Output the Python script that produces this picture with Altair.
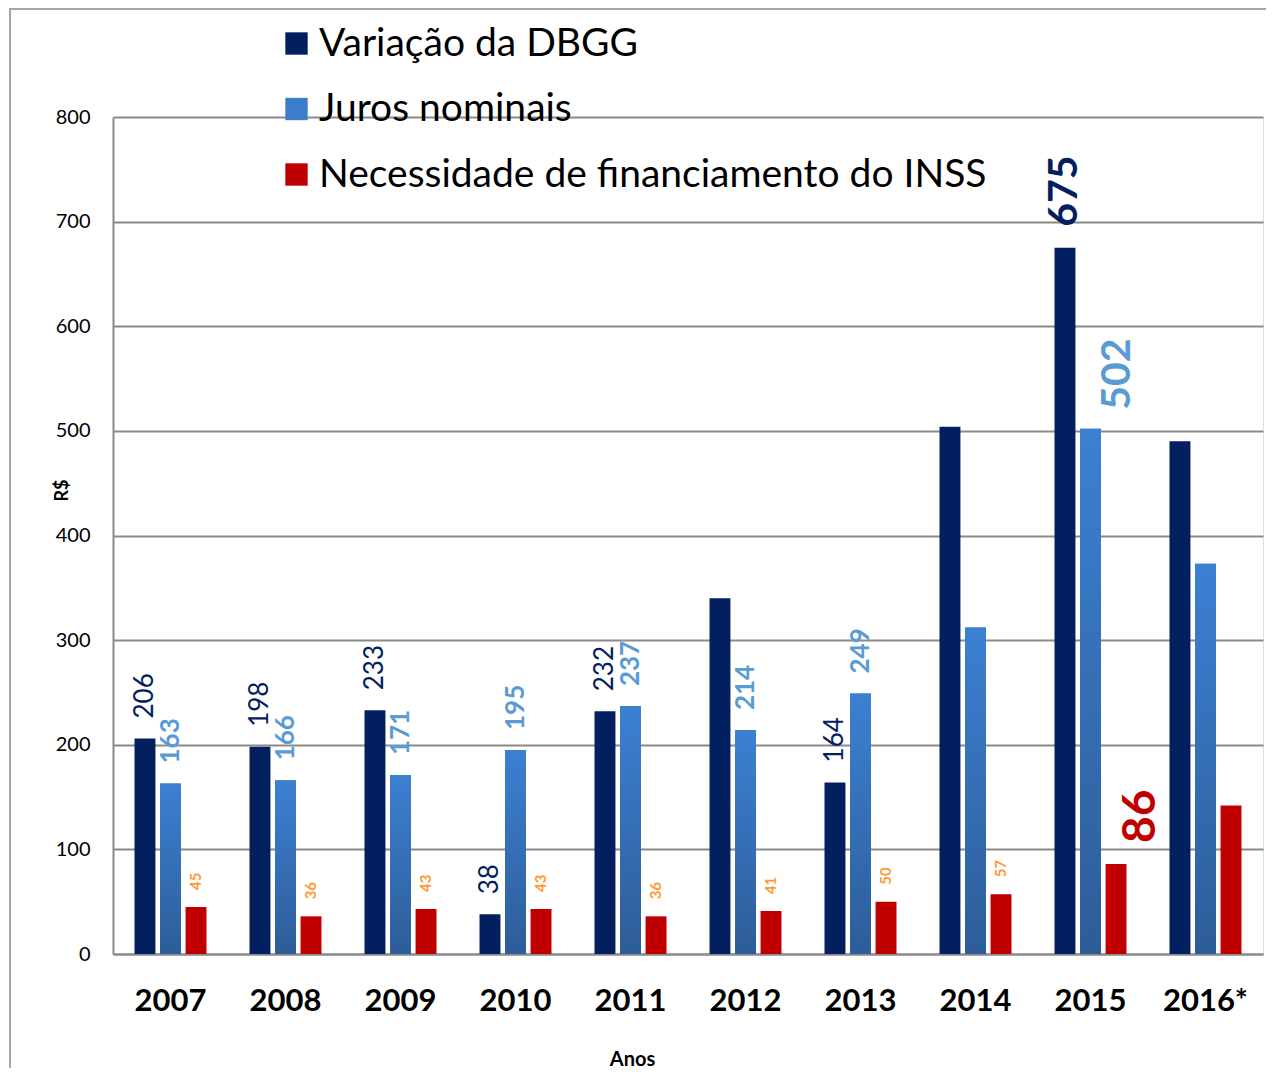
import altair as alt
import pandas as pd

years = ["2007", "2008", "2009", "2010", "2011", "2012", "2013", "2014", "2015", "2016*"]
series = ["Variação da DBGG", "Juros nominais", "Necessidade de financiamento do INSS"]
dbgg = [206, 198, 233, 38, 232, 340, 164, 504, 675, 490]
juros = [163, 166, 171, 195, 237, 214, 249, 312, 502, 373]
inss = [45, 36, 43, 43, 36, 41, 50, 57, 86, 142]
dbgg_labels = ["206", "198", "233", "38", "232", "", "164", "", "675", ""]
juros_labels = ["163", "166", "171", "195", "237", "214", "249", "", "502", ""]
inss_labels = ["45", "36", "43", "43", "36", "41", "50", "57", "86", ""]
highlight_year = "2015"

rows = []
for s, vals, labs in zip(series, [dbgg, juros, inss], [dbgg_labels, juros_labels, inss_labels]):
    for y, v, l in zip(years, vals, labs):
        rows.append({"ano": y, "serie": s, "valor": v, "rotulo": l})
df = pd.DataFrame(rows)

NAVY = "#022060"
BLUE = "#3B7DCB"
RED = "#C00000"
FONT = "Lato"

base = alt.Chart(df).encode(
    x=alt.X("ano:N", sort=years,
            scale=alt.Scale(paddingInner=0.374, paddingOuter=0.187),
            axis=alt.Axis(title="Anos", titleFont=FONT, titleFontSize=20, titleFontWeight="bold",
                          titleColor="black", titleX=519, titleY=105, titleAlign="center",
                          titleBaseline="middle",
                          labelFont=FONT, labelFontSize=31, labelFontWeight="bold", labelColor="black",
                          labelPadding=32, labelAngle=0, ticks=False, tickSize=0,
                          domainColor="#8a8a8a", domainWidth=2)),
    xOffset=alt.XOffset("serie:N", sort=series,
                        scale=alt.Scale(paddingInner=0.18, paddingOuter=0)),
    y=alt.Y("valor:Q", scale=alt.Scale(domain=[0, 800], nice=False),
            axis=alt.Axis(values=list(range(0, 801, 100)), title="R$",
                          titleFont=FONT, titleFontSize=18, titleFontWeight="bold", titleColor="black",
                          titleAngle=270, titleX=-51, titleY=373, titleAlign="center", titleBaseline="middle",
                          labelFont=FONT, labelFontSize=20, labelColor="black", labelPadding=23,
                          ticks=False, tickSize=0, grid=True, gridColor="#8a8a8a", gridWidth=2,
                          domainColor="#8a8a8a", domainWidth=2)),
)

bars = base.mark_bar().encode(
    color=alt.Color("serie:N", sort=series,
                    scale=alt.Scale(domain=series, range=[NAVY, BLUE, RED]),
                    legend=alt.Legend(title=None, orient="none", legendX=164, legendY=-93,
                                      symbolType="square", symbolSize=500, symbolStrokeWidth=0,
                                      labelFont=FONT, labelFontSize=39, labelColor="black",
                                      labelOffset=3, rowPadding=25.5, labelLimit=900))
)

grad = alt.LinearGradient(gradient="linear",
                          stops=[alt.GradientStop(color="#3C80D2", offset=0),
                                 alt.GradientStop(color="#2D5D98", offset=1)],
                          x1=0, x2=0, y1=0, y2=1)
juros_bars = base.transform_filter(alt.datum.serie == series[1]).mark_bar(color=grad)

not_hl = (alt.datum.ano != highlight_year) & (alt.datum.rotulo != "")
is_hl = (alt.datum.ano == highlight_year) & (alt.datum.rotulo != "")

def label_layer(serie, cond, **kw):
    return base.transform_filter(alt.datum.serie == serie).transform_filter(cond).mark_text(
        angle=270, align="left", baseline="middle", font=FONT, **kw
    ).encode(text="rotulo:N")

lab1 = label_layer(series[0], not_hl, dx=20, fontSize=26, color=NAVY)
lab2 = label_layer(series[1], not_hl, dx=20, fontSize=26, fontWeight="bold", color="#5B9BD5")
lab3 = label_layer(series[2], not_hl, dx=17, fontSize=15, fontWeight="bold", color="#FF9933")
big1 = label_layer(series[0], is_hl, dx=21, fontSize=41, fontWeight="bold", color=NAVY)
big2 = label_layer(series[1], is_hl, dx=19, dy=27, fontSize=41, fontWeight="bold", color="#5B9BD5")
big3 = label_layer(series[2], is_hl, dx=21, dy=25, fontSize=46, fontWeight="bold", color=RED)

frame = alt.Chart(pd.DataFrame({"k": [0]})).mark_rect(fill=None, stroke="#a6a6a6", strokeWidth=2).encode(
    x=alt.value(-103), x2=alt.value(1175), y=alt.value(-108), y2=alt.value(990)
)

chart = alt.layer(frame, bars, juros_bars, lab1, lab2, lab3, big1, big2, big3).properties(
    width=1150, height=837,
    autosize=alt.AutoSizeParams(type="none"),
    padding={"left": 105, "top": 109, "right": 3, "bottom": 114},
).configure_view(stroke=None).configure(background="white")

chart.save("out.html", embed_options={"renderer": "svg", "actions": False})
